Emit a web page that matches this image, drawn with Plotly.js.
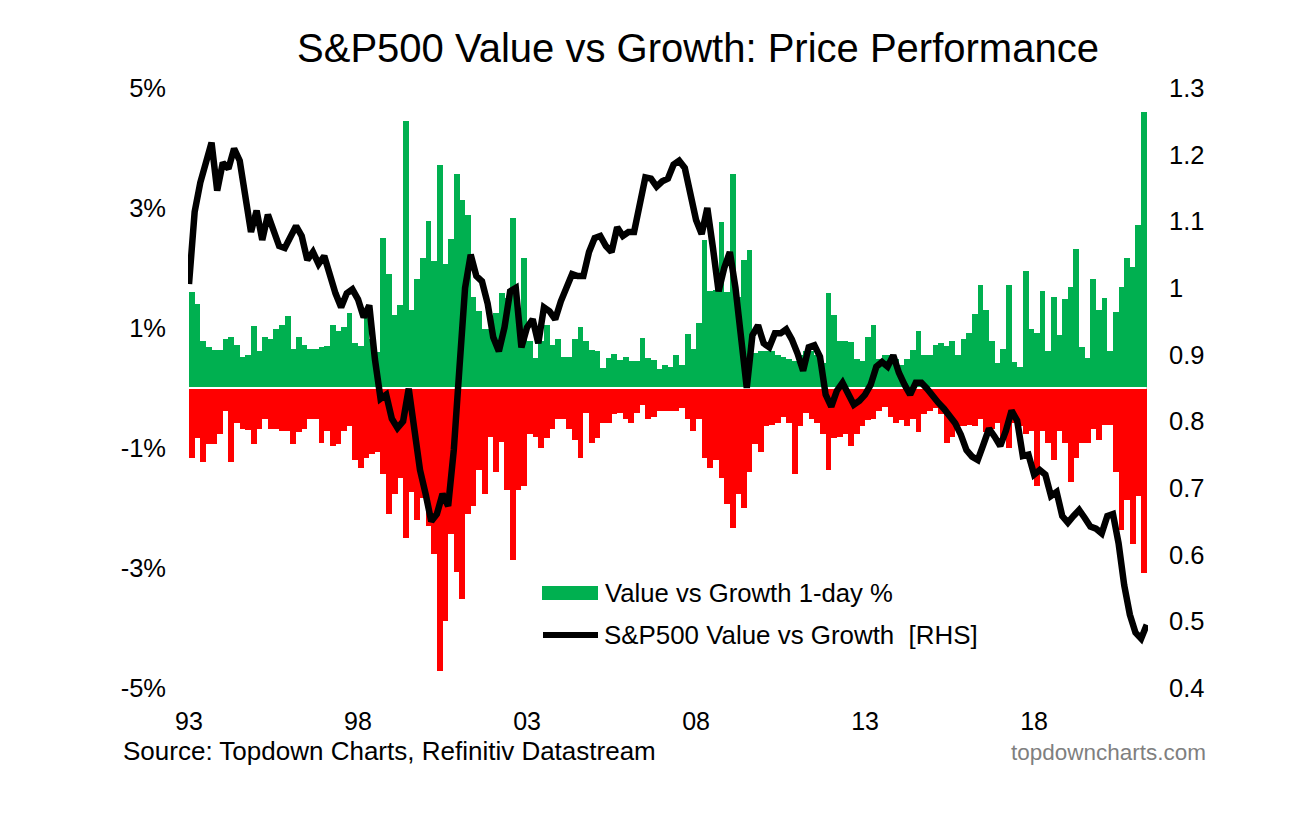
<!DOCTYPE html>
<html>
<head>
<meta charset="utf-8">
<script src="https://cdn.plot.ly/plotly-3.0.1.min.js"></script>
<style>html,body{margin:0;padding:0;background:#fff}#chart{width:1307px;height:833px}</style>
</head>
<body>
<div id="chart"></div>
<script>
// Two-month periods starting Jan 1993
const startYear = 1993;
const periodsPerYear = 6;

// Value vs Growth 1-day % : largest up move in each period (%)
const dailyUp = [
  1.6, 1.4, 0.78, 0.68, 0.63, 0.63, 0.81, 0.85, 0.72, 0.52,
  0.55, 1.03, 0.62, 0.85, 0.81, 0.98, 1.05, 1.2, 0.65, 0.85,
  0.72, 0.65, 0.65, 0.68, 0.7, 1.05, 0.95, 1.02, 1.25, 0.75,
  0.7, 1.3, 0.81, 0.6, 2.5, 1.9, 1.21, 1.38, 4.45, 1.3,
  1.82, 2.17, 2.79, 2.11, 3.72, 2.07, 2.48, 3.56, 3.13, 2.88,
  1.51, 1.28, 0.98, 0.98, 1.25, 1.58, 1.5, 2.83, 1.2, 2.17,
  0.78, 0.5, 0.78, 1.05, 0.72, 0.81, 0.52, 0.52, 0.81, 1.01,
  0.78, 0.63, 0.62, 0.34, 0.5, 0.56, 0.47, 0.52, 0.45, 0.45,
  0.83, 0.5, 0.47, 0.32, 0.38, 0.35, 0.55, 0.38, 0.9, 0.65,
  1.08, 2.47, 1.61, 1.64, 2.77, 1.6, 3.56, 1.51, 2.14, 2.3,
  0.58, 0.62, 0.62, 0.62, 0.55, 0.52, 0.48, 0.45, 0.55, 0.62,
  0.62, 0.55, 0.42, 1.58, 1.21, 0.78, 0.78, 0.76, 0.48, 0.45,
  0.85, 1.05, 0.48, 0.55, 0.55, 0.48, 0.38, 0.48, 0.63, 0.95,
  0.55, 0.55, 0.72, 0.75, 0.7, 0.78, 0.55, 0.81, 0.91, 1.23,
  1.71, 1.3, 0.78, 0.42, 0.65, 1.71, 0.43, 0.35, 1.95, 0.98,
  0.91, 1.61, 0.62, 1.51, 0.89, 1.48, 1.68, 2.32, 0.68, 0.5,
  1.82, 1.3, 1.5, 0.62, 1.26, 1.68, 2.17, 2.02, 2.72, 4.6
];

// Value vs Growth 1-day % : largest down move in each period (%)
const dailyDown = [
  -1.17, -0.84, -1.24, -0.94, -0.94, -0.77, -0.38, -1.24, -0.58, -0.68,
  -0.7, -0.94, -0.68, -0.51, -0.68, -0.68, -0.71, -0.72, -0.94, -0.74,
  -0.68, -0.51, -0.52, -0.91, -0.71, -0.97, -0.94, -0.71, -0.64, -1.2,
  -1.34, -1.17, -1.1, -1.07, -1.44, -2.1, -1.77, -1.5, -2.5, -1.74,
  -2.2, -1.83, -2.3, -2.76, -4.72, -3.89, -2.43, -3.06, -3.52, -2.1,
  -1.97, -1.37, -1.77, -0.81, -1.4, -0.9, -1.7, -2.86, -1.7, -1.64,
  -0.77, -0.81, -1.0, -0.84, -0.68, -0.52, -0.51, -0.68, -0.87, -1.17,
  -0.41, -0.91, -0.84, -0.58, -0.58, -0.44, -0.41, -0.51, -0.58, -0.41,
  -0.28, -0.51, -0.48, -0.38, -0.38, -0.38, -0.38, -0.34, -0.51, -0.71,
  -0.51, -1.17, -1.34, -1.2, -1.5, -1.93, -2.33, -1.77, -2.0, -1.4,
  -0.94, -1.07, -0.64, -0.61, -0.58, -0.48, -0.58, -1.44, -0.64, -0.41,
  -0.51, -0.58, -0.77, -1.37, -0.84, -0.81, -0.77, -0.97, -0.77, -0.64,
  -0.54, -0.51, -0.38, -0.31, -0.48, -0.58, -0.54, -0.64, -0.51, -0.74,
  -0.44, -0.38, -0.34, -0.44, -0.91, -0.81, -0.64, -0.64, -0.61, -0.64,
  -0.51, -0.74, -0.68, -0.58, -0.81, -1.0, -0.58, -0.64, -0.77, -0.71,
  -1.64, -0.71, -0.91, -1.2, -0.71, -0.91, -1.57, -1.17, -0.91, -0.91,
  -0.68, -0.87, -0.61, -0.61, -1.4, -2.36, -1.87, -2.6, -1.8, -3.09
];

// S&P500 Value vs Growth relative index [RHS], at each period start
const valueVsGrowth = [
  1.006, 1.114, 1.158, 1.191, 1.218, 1.146, 1.188, 1.179, 1.209, 1.191,
  1.137, 1.084, 1.116, 1.072, 1.11, 1.084, 1.063, 1.06, 1.078, 1.093,
  1.078, 1.042, 1.054, 1.036, 1.048, 1.018, 0.992, 0.971, 0.992, 0.998,
  0.983, 0.956, 0.974, 0.893, 0.834, 0.84, 0.804, 0.79, 0.8, 0.849,
  0.786, 0.727, 0.691, 0.65, 0.661, 0.691, 0.673, 0.757, 0.88, 1.0,
  1.05, 1.018, 1.01, 0.977, 0.926, 0.905, 0.941, 0.995, 1.0, 0.911,
  0.941, 0.953, 0.917, 0.971, 0.965, 0.953, 0.98, 1.0, 1.021, 1.018,
  1.018, 1.054, 1.075, 1.078, 1.063, 1.054, 1.091, 1.078, 1.084, 1.084,
  1.126, 1.166, 1.164, 1.152, 1.16, 1.164, 1.185, 1.191, 1.18, 1.143,
  1.102, 1.081, 1.12, 1.06, 0.995, 1.03, 1.054, 1.0, 0.917, 0.85,
  0.929, 0.944, 0.917, 0.911, 0.932, 0.932, 0.938, 0.923, 0.902, 0.876,
  0.911, 0.914, 0.897, 0.84, 0.822, 0.846, 0.858, 0.84, 0.825, 0.831,
  0.84, 0.855, 0.882, 0.889, 0.882, 0.899, 0.873, 0.855, 0.84, 0.858,
  0.858, 0.849, 0.837, 0.828, 0.819, 0.807, 0.797, 0.78, 0.757, 0.747,
  0.742, 0.765, 0.789, 0.777, 0.763, 0.786, 0.816, 0.801, 0.748, 0.75,
  0.72, 0.727, 0.72, 0.688, 0.694, 0.658, 0.648, 0.658, 0.667, 0.655,
  0.642, 0.639, 0.632, 0.658, 0.661, 0.617, 0.554, 0.51, 0.483, 0.474,
  0.495
];

const xTickVals = [1993, 1998, 2003, 2008, 2013, 2018];
const xTickText = ["93", "98", "03", "08", "13", "18"];
const leftTickVals = [5, 3, 1, -1, -3, -5];
const leftTickText = ["5%", "3%", "1%", "-1%", "-3%", "-5%"];
const rightTickVals = [1.3, 1.2, 1.1, 1.0, 0.9, 0.8, 0.7, 0.6, 0.5, 0.4];
const rightTickText = ["1.3", "1.2", "1.1", "1", "0.9", "0.8", "0.7", "0.6", "0.5", "0.4"];

const titleText = "S&P500 Value vs Growth: Price Performance";
const barLegend = "Value vs Growth 1-day %";
const lineLegend = "S&P500 Value vs Growth\u00a0 [RHS]";
const sourceText = "Source: Topdown Charts, Refinitiv Datastream";
const siteText = "topdowncharts.com";

const step = 1 / periodsPerYear;
const barX = dailyUp.map((_, i) => startYear + i * step + step / 2);
const lineX = valueVsGrowth.map((_, i) => startYear + i * step);
const firstEdge = startYear;
const lastEdge = startYear + dailyUp.length * step;

const GREEN = "#00B050", RED = "#FF0000";
const FONT = '"Liberation Sans", Arial, Helvetica, sans-serif';

const traces = [
  {type: "bar", x: barX, y: dailyUp, width: step * 1.03, marker: {color: GREEN, line: {width: 0}},
   yaxis: "y", hoverinfo: "skip"},
  {type: "bar", x: barX, y: dailyDown, width: step * 1.03, marker: {color: RED, line: {width: 0}},
   yaxis: "y", hoverinfo: "skip"},
  {type: "scatter", mode: "lines", x: [firstEdge, lastEdge], y: [0, 0],
   line: {color: "#ffffff", width: 2}, yaxis: "y", hoverinfo: "skip"},
  {type: "scatter", mode: "lines", x: lineX, y: valueVsGrowth,
   line: {color: "#000000", width: 6.5, shape: "linear"}, yaxis: "y2", hoverinfo: "skip"}
];

const L = 188, R = 1148, T = 88, B = 688;
const px = x => (x - L) / (R - L);
const py = y => (B - y) / (B - T);

const layout = {
  width: 1307, height: 833,
  margin: {l: L, r: 1307 - R, t: T, b: 833 - B, pad: 0},
  paper_bgcolor: "#ffffff", plot_bgcolor: "#ffffff",
  font: {family: FONT, size: 25, color: "#000000"},
  title: {text: titleText, font: {family: FONT, size: 40, color: "#000000"},
          xref: "container", x: 698 / 1307, xanchor: "center",
          yref: "container", y: 1 - 48 / 833, yanchor: "middle"},
  showlegend: false,
  barmode: "overlay", bargap: 0,
  xaxis: {range: [1992.97, 2021.37], tickmode: "array", tickvals: xTickVals, ticktext: xTickText,
          showgrid: false, zeroline: false, showline: false, ticks: "", ticklabelstandoff: 16,
          tickfont: {size: 25}},
  yaxis: {range: [-5, 5], tickmode: "array", tickvals: leftTickVals, ticktext: leftTickText,
          showgrid: false, zeroline: false, showline: false, ticks: "", ticklabelstandoff: 21,
          tickfont: {size: 25.5}},
  yaxis2: {range: [0.4, 1.3], overlaying: "y", side: "right", tickmode: "array",
           tickvals: rightTickVals, ticktext: rightTickText,
           showgrid: false, zeroline: false, showline: false, ticks: "", ticklabelstandoff: 20,
           tickfont: {size: 25.5}},
  shapes: [
    {type: "rect", xref: "paper", yref: "paper", x0: px(542), x1: px(598), y0: py(600), y1: py(586),
     fillcolor: GREEN, line: {width: 0}},
    {type: "line", xref: "paper", yref: "paper", x0: px(543), x1: px(598), y0: py(635), y1: py(635),
     line: {color: "#000000", width: 6}}
  ],
  annotations: [
    {text: barLegend, xref: "paper", yref: "paper", x: px(603), y: py(593), xanchor: "left", yanchor: "middle",
     showarrow: false, font: {size: 25.7, color: "#000000"}},
    {text: lineLegend, xref: "paper", yref: "paper", x: px(602), y: py(635), xanchor: "left", yanchor: "middle",
     showarrow: false, font: {size: 25.9, color: "#000000"}},
    {text: sourceText, xref: "paper", yref: "paper", x: px(121), y: py(751), xanchor: "left", yanchor: "middle",
     showarrow: false, font: {size: 26, color: "#000000"}},
    {text: siteText, xref: "paper", yref: "paper", x: px(1208), y: py(752), xanchor: "right", yanchor: "middle",
     showarrow: false, font: {size: 22.5, color: "#7F7F7F"}}
  ]
};

Plotly.newPlot("chart", traces, layout, {displayModeBar: false, staticPlot: true});
</script>
</body>
</html>
